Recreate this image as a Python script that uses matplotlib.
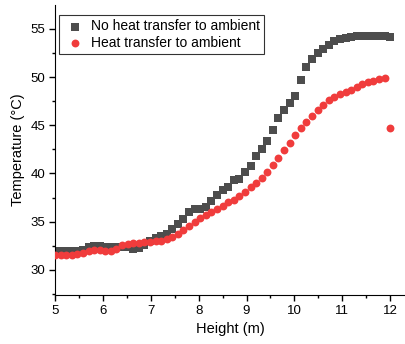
import numpy as np
import matplotlib
matplotlib.use('Agg')
import matplotlib.pyplot as plt
from matplotlib.ticker import MultipleLocator

plt.rcParams['font.family'] = ['Liberation Sans', 'DejaVu Sans']

height = [5.000, 5.117, 5.233, 5.350, 5.467, 5.583, 5.700, 5.817, 5.933, 6.050,
          6.167, 6.283, 6.400, 6.517, 6.633, 6.750, 6.867, 6.983, 7.100, 7.217,
          7.333, 7.450, 7.567, 7.683, 7.800, 7.917, 8.033, 8.150, 8.267, 8.383,
          8.500, 8.617, 8.733, 8.850, 8.967, 9.083, 9.200, 9.317, 9.433, 9.550,
          9.667, 9.783, 9.900, 10.017, 10.133, 10.250, 10.367, 10.483, 10.600, 10.717,
          10.833, 10.950, 11.067, 11.183, 11.300, 11.417, 11.533, 11.650, 11.767, 11.883,
          12.000]

# no heat transfer to ambient
temp_no_loss = [32.0, 32.0, 32.0, 32.0, 32.0, 32.1, 32.35, 32.5, 32.45, 32.4,
                32.4, 32.4, 32.35, 32.35, 32.2, 32.3, 32.6, 32.95, 33.3, 33.5,
                33.7, 34.2, 34.8, 35.3, 36.0, 36.3, 36.35, 36.5, 37.1, 37.8,
                38.3, 38.6, 39.3, 39.45, 40.2, 40.8, 41.8, 42.5, 43.35, 44.5,
                45.7, 46.6, 47.3, 48.0, 49.7, 51.0, 51.9, 52.5, 52.9, 53.3,
                53.7, 53.95, 54.05, 54.15, 54.25, 54.3, 54.3, 54.3, 54.3, 54.3,
                54.2]

# heat transfer to ambient
temp_loss = [31.6, 31.6, 31.6, 31.6, 31.65, 31.75, 31.95, 32.1, 32.05, 31.95,
             31.95, 32.15, 32.55, 32.7, 32.75, 32.8, 32.85, 32.9, 32.95, 33.0,
             33.2, 33.45, 33.75, 34.15, 34.55, 35.0, 35.4, 35.7, 36.05, 36.35,
             36.6, 37.0, 37.3, 37.7, 38.1, 38.55, 39.0, 39.5, 40.15, 40.9,
             41.6, 42.4, 43.2, 44.0, 44.7, 45.35, 46.0, 46.55, 47.1, 47.6,
             47.95, 48.2, 48.45, 48.7, 49.0, 49.3, 49.45, 49.6, 49.75, 49.95,
             44.7]

fig = plt.figure(figsize=(4.06, 3.44), dpi=100)
ax = fig.add_axes([0.1355, 0.1424, 0.8645, 0.8426])

ax.scatter(height, temp_no_loss, marker='s', s=30, color='#4d4d4d',
           linewidths=0, label='No heat transfer to ambient', zorder=2)
ax.scatter(height, temp_loss, marker='o', s=32, color='#f03c3c',
           linewidths=0, label='Heat transfer to ambient', zorder=3)

ax.set_xlim(5, 12.33)
ax.set_ylim(27.4, 57.45)
ax.xaxis.set_major_locator(MultipleLocator(1))
ax.xaxis.set_minor_locator(MultipleLocator(0.5))
ax.yaxis.set_major_locator(MultipleLocator(5))
ax.yaxis.set_minor_locator(MultipleLocator(2.5))
ax.tick_params(which='major', length=4, width=1, labelsize=9.5, pad=3)
ax.tick_params(which='minor', length=2, width=1)

ax.spines['top'].set_visible(False)
ax.spines['right'].set_visible(False)
ax.set_xlabel('Height (m)', fontsize=10.5)
ax.set_ylabel('Temperature (°C)', fontsize=10.5)

leg = ax.legend(loc='upper left', bbox_to_anchor=(0.012, 0.965), fontsize=10,
                frameon=True, fancybox=False, borderpad=0.3, handletextpad=0.4,
                labelspacing=0.15, handlelength=1.6, borderaxespad=0)
leg.get_frame().set_edgecolor('black')
leg.get_frame().set_linewidth(0.8)

fig.savefig('out.png', dpi=100)
